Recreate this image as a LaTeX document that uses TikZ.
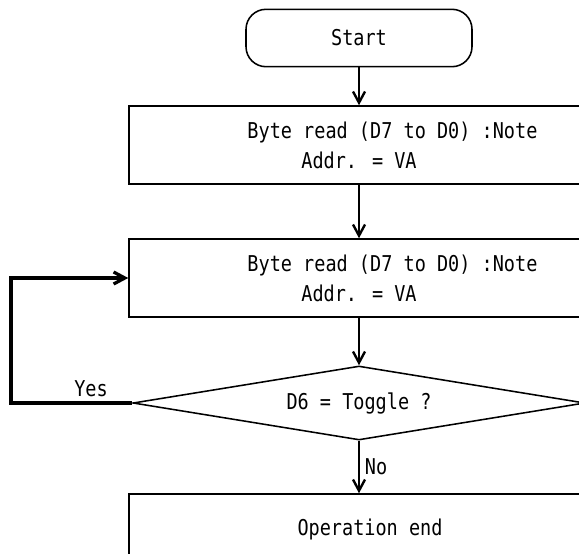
\documentclass[tikz,border=0pt]{standalone}
\usepackage{fontspec}
\newfontfamily\flowfont[FakeStretch=0.85]{DejaVu Sans Mono}
\usetikzlibrary{arrows.meta, shapes.geometric}

\begin{document}
\begin{tikzpicture}[
    box/.style={draw, line width=1.1pt, minimum width=11.5cm, minimum height=1.95cm, align=center, font=\flowfont\fontsize{15.5pt}{21.3pt}\selectfont},
    term/.style={box, rounded corners=0.5cm, minimum width=5.65cm, minimum height=1.435cm},
    decide/.style={box, diamond, shape aspect=6.1, inner sep=0pt, minimum width=11.3cm, minimum height=1.85cm},
    lbl/.style={font=\flowfont\fontsize{15.5pt}{21.3pt}\selectfont},
    flow/.style={->, line width=1.7pt},
    >={Straight Barb[length=2.8mm, width=3mm]}
]
\useasboundingbox (0,0) rectangle (14.475,-13.825);
\node[term] (start) at (8.975,-0.95) {Start};
\node[box] (rd1) at (8.975,-3.625) {Byte read (D7 to D0)\rlap{\ :Note}\\Addr. = VA};
\node[box] (rd2) at (8.975,-6.95) {Byte read (D7 to D0)\rlap{\ :Note}\\Addr. = VA};
\node[decide] (chk) at (8.975,-10.075) {D6 = Toggle ?};
\node[box, minimum height=1.75cm] (done) at (8.975,-13.225) {\hspace*{0.55cm}Operation end};
\coordinate (back) at (0.275,0);

\draw[flow] (start) -- (rd1);
\draw[flow] (rd1) -- (rd2);
\draw[flow] (rd2) -- (chk);
\draw[flow] (chk) -- node[lbl, right]{No} (done);
\draw[flow, line width=2.3pt] (chk.west) -- node[lbl, pos=0.34, above]{Yes} (chk.west -| back) |- (rd2.west);
\end{tikzpicture}
\end{document}
